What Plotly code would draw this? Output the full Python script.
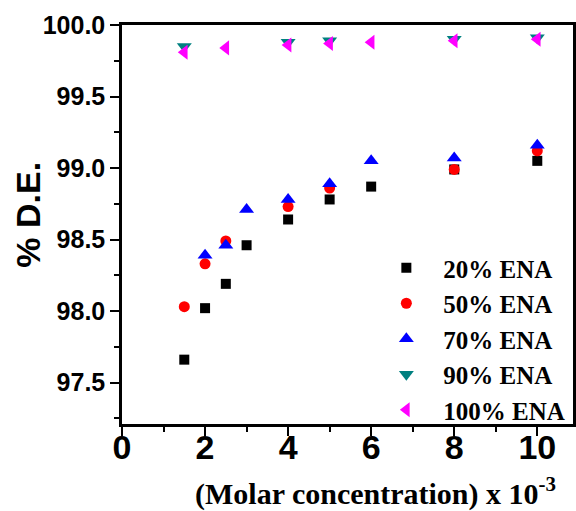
import plotly.graph_objects as go

# Molar concentration (x 10^-3) and % D.E. for each ENA loading
x_20 = [1.5, 2, 2.5, 3, 4, 5, 6, 8, 10]
y_20 = [97.66, 98.02, 98.19, 98.46, 98.64, 98.78, 98.87, 98.99, 99.05]

x_50 = [1.5, 2, 2.5, 4, 5, 8, 10]
y_50 = [98.03, 98.33, 98.49, 98.73, 98.86, 98.99, 99.12]

x_70 = [2, 2.5, 3, 4, 5, 6, 8, 10]
y_70 = [98.39, 98.46, 98.71, 98.78, 98.89, 99.05, 99.07, 99.16]

x_90 = [1.5, 4, 5, 8, 10]
y_90 = [99.85, 99.88, 99.89, 99.90, 99.91]

x_100 = [1.5, 2.5, 4, 5, 6, 8, 10]
y_100 = [99.81, 99.84, 99.86, 99.87, 99.88, 99.89, 99.90]

series = [
    ("20% ENA", x_20, y_20, "square", "#000000", 10),
    ("50% ENA", x_50, y_50, "circle", "#ff0000", 11),
    ("70% ENA", x_70, y_70, "triangle-up", "#0000ff", 13),
    ("90% ENA", x_90, y_90, "triangle-down", "#008080", 13),
    ("100% ENA", x_100, y_100, "triangle-left", "#ff00ff", 13),
]

x_ticks = [0, 2, 4, 6, 8, 10]
y_ticks = [97.5, 98.0, 98.5, 99.0, 99.5, 100.0]
x_range = [0, 10.86]
y_range = [97.21, 100.0]

fig = go.Figure()
for name, xs, ys, sym, col, size in series:
    fig.add_trace(go.Scatter(
        x=xs, y=ys, mode="markers", name=name,
        marker=dict(symbol=sym, color=col, size=size, line=dict(width=0)),
        cliponaxis=False,
    ))

# empty trace so the overlaid label axis gets rendered
fig.add_trace(go.Scatter(x=[], y=[], xaxis="x2", yaxis="y", mode="markers",
                         showlegend=False, hoverinfo="skip"))

W, H = 576, 511
L, R, T, B = 122, 0, 25, 87
pw, ph = W - L - R, H - T - B

def px(xp):
    return (xp - L) / pw

def py(yp):
    return (H - B - yp) / ph

axis_common = dict(
    showline=True, linecolor="#000000", linewidth=2.5, mirror=True,
    showgrid=False, zeroline=False, ticks="outside", tickcolor="#000000",
    tickwidth=2, ticklen=9,
)

fig.update_layout(
    width=W, height=H,
    margin=dict(l=L, r=R, t=T, b=B),
    paper_bgcolor="white", plot_bgcolor="white",
    # bottom axis: line and tick marks only
    xaxis=dict(
        range=x_range, tickvals=x_ticks, showticklabels=False,
        minor=dict(dtick=1, tick0=0, ticks="outside", ticklen=5, tickwidth=2, tickcolor="#000000"),
        **axis_common,
    ),
    # overlaid bottom axis carrying the large tick labels close to the axis line
    xaxis2=dict(
        range=x_range, overlaying="x", anchor="y", side="bottom",
        tickvals=x_ticks, ticks="", showline=False, showgrid=False, zeroline=False,
        tickfont=dict(family="Liberation Sans", size=34, color="#000000", weight="bold"),
    ),
    yaxis=dict(
        range=y_range, tickvals=y_ticks, tickformat=".1f",
        tickfont=dict(family="Liberation Sans", size=25, color="#000000", weight="bold"),
        minor=dict(dtick=0.25, tick0=97.25, ticks="outside", ticklen=5, tickwidth=2, tickcolor="#000000"),
        **axis_common,
    ),
    showlegend=True,
    legend=dict(
        x=px(371), y=py(245), xanchor="left", yanchor="top",
        bgcolor="rgba(0,0,0,0)", borderwidth=0,
        font=dict(family="Liberation Serif", size=25, color="#000000", weight="bold"),
        itemsizing="trace", itemwidth=64, tracegroupgap=0,
    ),
    annotations=[
        dict(text="% D.E.", textangle=-90, xref="paper", yref="paper",
             x=px(27), y=py(215), xanchor="center", yanchor="middle", showarrow=False,
             font=dict(family="Liberation Sans", size=34, color="#000000", weight="bold")),
        dict(text="(Molar concentration) x 10<sup>-3</sup>", xref="paper", yref="paper",
             x=px(377), y=py(491), xanchor="center", yanchor="middle", showarrow=False,
             font=dict(family="Liberation Serif", size=30, color="#000000", weight="bold")),
    ],
)

fig.write_html("out.html")
